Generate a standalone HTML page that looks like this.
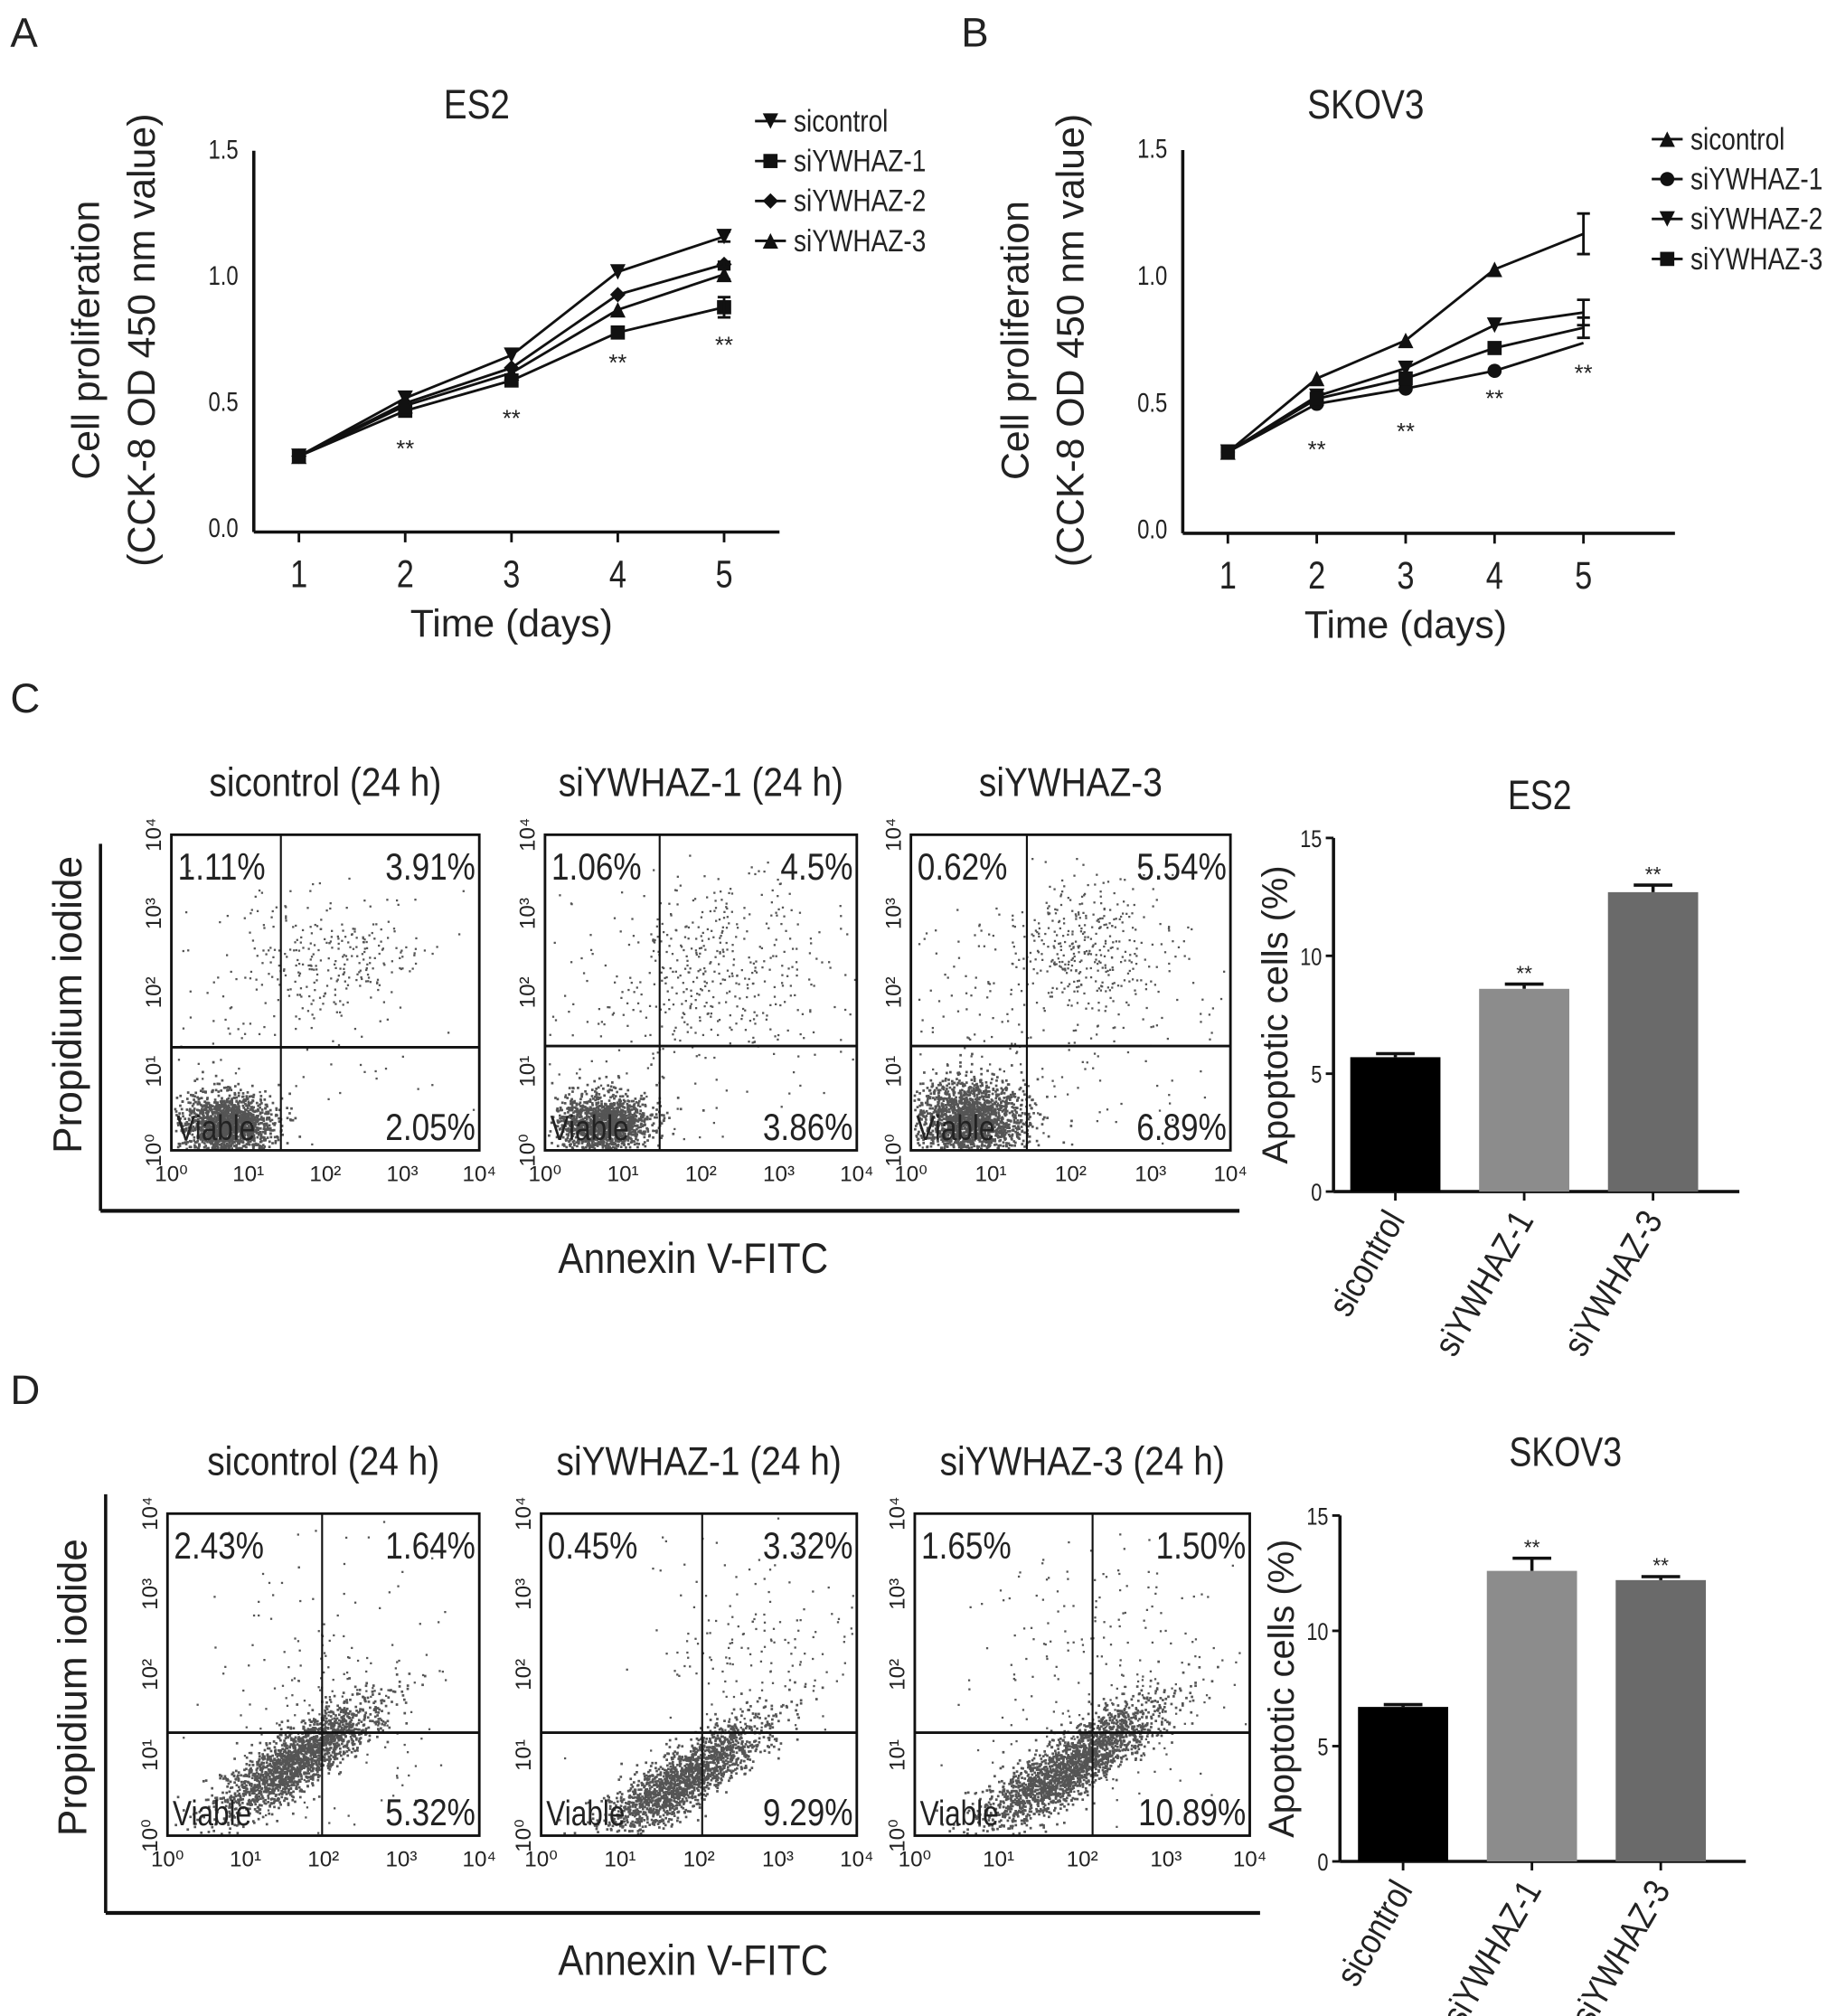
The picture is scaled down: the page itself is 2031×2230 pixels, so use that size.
<!DOCTYPE html>
<html><head><meta charset="utf-8"><style>
html,body{margin:0;padding:0;background:#fff}
svg{display:block}
text{font-family:"Liberation Sans",sans-serif;fill:#222}
</style></head><body>
<svg id="fig" xmlns="http://www.w3.org/2000/svg" width="2031" height="2230" viewBox="0 0 1425 1565" preserveAspectRatio="none">
<rect width="1425" height="1565" fill="#fff"/>
<text x="8" y="36" font-size="32">A</text>
<text x="746" y="36" font-size="32">B</text>
<text x="8" y="553" font-size="32">C</text>
<text x="8" y="1090" font-size="32">D</text>
<g id="chartA"></g>
<g id="chartB"></g>
<g id="flowC"></g>
<g id="flowD"></g>
<g id="barC"></g>
<g id="barD"></g>
</svg>
<script>
// ---- data ----
const days = [1,2,3,4,5];
const yTicksLine = [0.0,0.5,1.0,1.5];
const aNames = ["sicontrol","siYWHAZ-1","siYWHAZ-2","siYWHAZ-3"];
const aControl = [0.29,0.52,0.69,1.02,1.16];
const aY1 = [0.29,0.47,0.59,0.78,0.88];
const aY2 = [0.29,0.50,0.64,0.93,1.05];
const aY3 = [0.29,0.49,0.62,0.87,1.01];
const aStars = [0.33,0.45,0.67,0.74];
const bNames = ["sicontrol","siYWHAZ-1","siYWHAZ-2","siYWHAZ-3"];
const bControl = [0.31,0.60,0.75,1.03,1.17];
const bY1 = [0.31,0.50,0.56,0.63,0.74];
const bY2 = [0.31,0.53,0.64,0.81,0.86];
const bY3 = [0.31,0.52,0.60,0.72,0.80];
const bStars = [0.33,0.40,0.53,0.63];
const barCats = ["sicontrol","siYWHAZ-1","siYWHAZ-3"];
const barTicks = [0,5,10,15];
const esBars = [5.7,8.6,12.7];
const esErr = [0.15,0.2,0.3];
const skBars = [6.7,12.6,12.2];
const skErr = [0.1,0.55,0.15];
const flowTitlesC = ["sicontrol (24 h)","siYWHAZ-1 (24 h)","siYWHAZ-3"];
const flowQuadC = [["1.11%","3.91%","2.05%"],["1.06%","4.5%","3.86%"],["0.62%","5.54%","6.89%"]];
const flowTitlesD = ["sicontrol (24 h)","siYWHAZ-1 (24 h)","siYWHAZ-3 (24 h)"];
const flowQuadD = [["2.43%","1.64%","5.32%"],["0.45%","3.32%","9.29%"],["1.65%","1.50%","10.89%"]];

const NS="http://www.w3.org/2000/svg";
function mk(parent,tag,attrs,txt){const e=document.createElementNS(NS,tag);for(const k in attrs)e.setAttribute(k,attrs[k]);if(txt!==undefined)e.textContent=txt;parent.appendChild(e);return e;}
function sq(el,f){const L=el.getComputedTextLength();if(L>0){el.setAttribute('textLength',(L*f).toFixed(1));el.setAttribute('lengthAdjust','spacingAndGlyphs');}return el;}
const CF=0.8;

function marker(g,shape,x,y){
  const s=6;
  if(shape==="down") return mk(g,"polygon",{points:`${x-s},${y-s} ${x+s},${y-s} ${x},${y+s}`,fill:"#111"});
  if(shape==="up") return mk(g,"polygon",{points:`${x-s},${y+s} ${x+s},${y+s} ${x},${y-s}`,fill:"#111"});
  if(shape==="sq") return mk(g,"rect",{x:x-5.5,y:y-5.5,width:11,height:11,fill:"#111"});
  if(shape==="dia") return mk(g,"polygon",{points:`${x-6},${y} ${x},${y-6} ${x+6},${y} ${x},${y+6}`,fill:"#111"});
  return mk(g,"circle",{cx:x,cy:y,r:5.5,fill:"#111"});
}

function lineChart(id,cfg){
  const g=document.getElementById(id);
  const X=d=>cfg.x0+(d-1)*cfg.dx, Y=v=>cfg.y0-v*cfg.ky;
  let e=mk(g,"line",{x1:cfg.ax,y1:Y(1.5),x2:cfg.ax,y2:cfg.y0+2,stroke:"#111","stroke-width":2.5});
  
  e=mk(g,"line",{x1:cfg.ax,y1:cfg.y0+2,x2:cfg.axEnd,y2:cfg.y0+2,stroke:"#111","stroke-width":2.5});
  
  yTicksLine.forEach(t=>{const l=mk(g,"text",{x:cfg.ax-12,y:Y(t)+6,"font-size":21,"text-anchor":"end",fill:"#444"},t.toFixed(1));sq(l,CF);
    });
  days.forEach(d=>{mk(g,"line",{x1:X(d),y1:cfg.y0+2,x2:X(d),y2:cfg.y0+10,stroke:"#111","stroke-width":2});
    const l=mk(g,"text",{x:X(d),y:cfg.y0+45,"font-size":30,"text-anchor":"middle"},d);sq(l,CF);
    });
  let t=mk(g,"text",{x:(cfg.x0+cfg.x0+4*cfg.dx)/2,y:cfg.y0+83,"font-size":30,"text-anchor":"middle"},"Time (days)");
  
  t=mk(g,"text",{x:cfg.titleX,y:92,"font-size":32,"text-anchor":"middle"},cfg.title);sq(t,0.85);
  
  const cy=(Y(1.5)+cfg.y0)/2;
  t=mk(g,"text",{x:0,y:0,"font-size":30,"text-anchor":"middle",transform:`translate(${cfg.ax-120},${cy}) rotate(-90)`},"Cell proliferation");
  
  t=mk(g,"text",{x:0,y:0,"font-size":30,"text-anchor":"middle",transform:`translate(${cfg.ax-77},${cy}) rotate(-90)`},"(CCK-8 OD 450 nm value)");
  
  cfg.series.forEach((s,i)=>{
    const sg=mk(g,"g",{});
    
    mk(sg,"polyline",{points:s.v.map((v,j)=>X(days[j])+","+Y(v)).join(" "),fill:"none",stroke:"#111","stroke-width":2});
    s.v.forEach((v,j)=>{ if(j<4||s.end) { const m=marker(sg,s.shape,X(days[j]),Y(v));  } });
    if(s.err){const x=X(5),v=s.v[4];mk(sg,"path",{d:`M${x-5},${Y(v+s.err)}H${x+5}M${x},${Y(v+s.err)}V${Y(v-s.err)}M${x-5},${Y(v-s.err)}H${x+5}`,stroke:"#111","stroke-width":2,fill:"none"});}
    const ly=cfg.legY+i*cfg.legDy;
    const lg=mk(g,"g",{});
    
    mk(lg,"line",{x1:cfg.legX,y1:ly,x2:cfg.legX+24,y2:ly,stroke:"#111","stroke-width":2});
    marker(lg,s.shape,cfg.legX+12,ly);
    sq(mk(lg,"text",{x:cfg.legX+30,y:ly+8,"font-size":24},cfg.names[i]),0.82);
  });
  cfg.stars.forEach((v,j)=>{const st=mk(g,"text",{x:X(days[j+1]),y:Y(v)+8,"font-size":18,"text-anchor":"middle",fill:"#555"},"**");
    });
}
lineChart("chartA",{x0:232,dx:82.5,y0:411,ky:196,ax:197,axEnd:605,title:"ES2",titleX:370,names:aNames,
  series:[{v:aControl,shape:"down",err:0.02,end:true},{v:aY1,shape:"sq",err:0.04,end:true},{v:aY2,shape:"dia",err:0.01,end:true},{v:aY3,shape:"up",err:0.02,end:true}],
  stars:aStars,legX:586,legY:94,legDy:31});
lineChart("chartB",{x0:953,dx:69,y0:412,ky:197,ax:918,axEnd:1300,title:"SKOV3",titleX:1060,names:bNames,
  series:[{v:bControl,shape:"up",err:0.08,end:false},{v:bY1,shape:"circ",err:0,end:false},{v:bY2,shape:"down",err:0.05,end:false},{v:bY3,shape:"sq",err:0.04,end:false}],
  stars:bStars,legX:1282,legY:108,legDy:31});

// ---- bar charts ----
function barChart(id,cfg,vals,errs){
  const g=document.getElementById(id);
  const Y=v=>cfg.y0-v*cfg.ky;
  const colors=["#000","#8c8c8c","#6a6a6a"];
  mk(g,"line",{x1:cfg.ax,y1:Y(15),x2:cfg.ax,y2:cfg.y0,stroke:"#111","stroke-width":2.5});
  mk(g,"line",{x1:cfg.ax,y1:cfg.y0,x2:cfg.axEnd,y2:cfg.y0,stroke:"#111","stroke-width":2.5});
  barTicks.forEach(t=>{mk(g,"line",{x1:cfg.ax-6,y1:Y(t),x2:cfg.ax,y2:Y(t),stroke:"#111","stroke-width":2});
    const l=mk(g,"text",{x:cfg.ax-9,y:Y(t)+7,"font-size":19,"text-anchor":"end",fill:"#444"},t);sq(l,CF);
    });
  let t=mk(g,"text",{x:cfg.tx,y:cfg.ty,"font-size":32,"text-anchor":"middle"},cfg.title);sq(t,0.82);
  
  t=mk(g,"text",{x:0,y:0,"font-size":28,"text-anchor":"middle",transform:`translate(${cfg.ax-36},${(Y(15)+cfg.y0)/2}) rotate(-90)`},"Apoptotic cells (%)");
  
  vals.forEach((v,i)=>{
    const x=cfg.b0+i*cfg.step,w=cfg.bw;
    const r=mk(g,"rect",{x:x,y:Y(v),width:w,height:cfg.y0-Y(v),fill:colors[i]});
    
    const cx=x+w/2,e=errs[i];
    mk(g,"path",{d:`M${cx-15},${Y(v+e)}H${cx+15}M${cx},${Y(v+e)}V${Y(v)}`,stroke:"#111","stroke-width":2.5,fill:"none"});
    mk(g,"line",{x1:cx,y1:cfg.y0,x2:cx,y2:cfg.y0+7,stroke:"#111","stroke-width":2});
    if(i>0){const s=mk(g,"text",{x:cx,y:Y(v+e)-3,"font-size":16,"text-anchor":"middle",fill:"#444"},"**");
      }
    const l=mk(g,"text",{x:0,y:0,"font-size":28,"text-anchor":"end",transform:`translate(${cx+8},${cfg.y0+22}) rotate(-60)`},barCats[i]);sq(l,0.85);
    
  });
}
barChart("barC",{ax:1035,axEnd:1350,y0:925,ky:18.3,title:"ES2",tx:1195,ty:628,b0:1048,step:100,bw:70},esBars,esErr);
barChart("barD",{ax:1040,axEnd:1355,y0:1445,ky:17.9,title:"SKOV3",tx:1215,ty:1138,b0:1054,step:100,bw:70},skBars,skErr);

// ---- flow cytometry plots ----
let seed=12345;
function rnd(){seed=(seed*1103515245+12345)%2147483648;return seed/2147483648;}
function gauss(){return Math.sqrt(-2*Math.log(rnd()+1e-9))*Math.cos(2*Math.PI*rnd());}
function flowPlot(g,b,title,q,clusters){
  const pg=mk(g,"g",{});
  
  sq(mk(pg,"text",{x:(b.x1+b.x2)/2,y:b.y1-30,"font-size":31,"text-anchor":"middle"},title),0.88);
  const dots=mk(pg,"g",{fill:"#555"});
  clusters.forEach(c=>{for(let i=0;i<c.n;i++){
    let x=c.cx+gauss()*c.sx, y=c.cy+gauss()*c.sy;
    if(c.diag){const t=gauss()*c.diag; x+=t; y-=t*0.7;}
    if(x<b.x1+2||x>b.x2-2||y<b.y1+2||y>b.y2-2)continue;
    mk(dots,"rect",{x:x.toFixed(1),y:y.toFixed(1),width:c.s||1.6,height:c.s||1.6});}});
  mk(pg,"rect",{x:b.x1,y:b.y1,width:b.x2-b.x1,height:b.y2-b.y1,fill:"none",stroke:"#111","stroke-width":2});
  mk(pg,"line",{x1:b.qx,y1:b.y1,x2:b.qx,y2:b.y2,stroke:"#111","stroke-width":1.5});
  mk(pg,"line",{x1:b.x1,y1:b.qy,x2:b.x2,y2:b.qy,stroke:"#111","stroke-width":2});
  sq(mk(pg,"text",{x:b.x1+5,y:b.y1+35,"font-size":29},q[0]),0.85);
  sq(mk(pg,"text",{x:b.x2-3,y:b.y1+35,"font-size":29,"text-anchor":"end"},q[1]),0.85);
  sq(mk(pg,"text",{x:b.x2-3,y:b.y2-8,"font-size":29,"text-anchor":"end"},q[2]),0.85);
  sq(mk(pg,"text",{x:b.x1+4,y:b.y2-8,"font-size":27,fill:"#333"},"Viable"),0.82);
  const exps=["10\u2070","10\u00b9","10\u00b2","10\u00b3","10\u2074"];
  for(let i=0;i<5;i++){
    const yy=b.y2-i*(b.y2-b.y1)/4, xx=b.x1+i*(b.x2-b.x1)/4;
    mk(pg,"text",{x:0,y:0,"font-size":17,"text-anchor":"middle",fill:"#333",transform:`translate(${b.x1-8},${yy}) rotate(-90)`},exps[i]);
    mk(pg,"text",{x:xx,y:b.y2+24,"font-size":17,"text-anchor":"middle",fill:"#333"},exps[i]);
  }
}
function flowPanel(id,boxes,titles,quads,clusterSets,ax){
  const g=document.getElementById(id);
  boxes.forEach((b,i)=>flowPlot(g,b,titles[i],quads[i],clusterSets[i]));
  mk(g,"line",{x1:ax.x,y1:ax.yt,x2:ax.x,y2:ax.yb,stroke:"#111","stroke-width":2.5});
  mk(g,"line",{x1:ax.x,y1:ax.yb,x2:ax.xr,y2:ax.yb,stroke:"#111","stroke-width":3});
  let t=mk(g,"text",{x:0,y:0,"font-size":31,"text-anchor":"middle",transform:`translate(${ax.x-15},${ax.ly}) rotate(-90)`},"Propidium iodide");
  
  t=mk(g,"text",{x:ax.lx,y:ax.yb+48,"font-size":33,"text-anchor":"middle"},"Annexin V-FITC");sq(t,0.9);
  
}
const bC=[{x1:133,x2:372,y1:648,y2:893,qx:218,qy:813},{x1:423,x2:665,y1:648,y2:893,qx:512,qy:812},{x1:707,x2:955,y1:648,y2:893,qx:797,qy:812}];
flowPanel("flowC",bC,flowTitlesC,flowQuadC,[
 [{cx:175,cy:872,sx:18,sy:12,n:1600,s:1.9},{cx:260,cy:745,sx:35,sy:25,n:260},{cx:200,cy:800,sx:70,sy:60,n:110}],
 [{cx:468,cy:872,sx:18,sy:12,n:1500,s:1.9},{cx:560,cy:745,sx:40,sy:30,n:320},{cx:520,cy:800,sx:70,sy:60,n:200}],
 [{cx:752,cy:868,sx:22,sy:15,n:1900,s:1.9},{cx:840,cy:735,sx:30,sy:25,n:330},{cx:810,cy:800,sx:70,sy:60,n:250}]
],{x:78,yt:655,yb:940,xr:962,ly:780,lx:538});
const bD=[{x1:130,x2:372,y1:1175,y2:1425,qx:250,qy:1345},{x1:420,x2:665,y1:1175,y2:1425,qx:545,qy:1345},{x1:710,x2:970,y1:1175,y2:1425,qx:848,qy:1345}];
flowPanel("flowD",bD,flowTitlesD,flowQuadD,[
 [{cx:230,cy:1365,sx:12,sy:10,n:1900,s:1.9,diag:28},{cx:250,cy:1310,sx:45,sy:50,n:200}],
 [{cx:530,cy:1380,sx:12,sy:10,n:1800,s:1.9,diag:30},{cx:590,cy:1280,sx:45,sy:40,n:170}],
 [{cx:830,cy:1370,sx:13,sy:10,n:2100,s:1.9,diag:32},{cx:860,cy:1300,sx:55,sy:55,n:240}]
],{x:82,yt:1160,yb:1485,xr:978,ly:1310,lx:538});
</script>
</body></html>
